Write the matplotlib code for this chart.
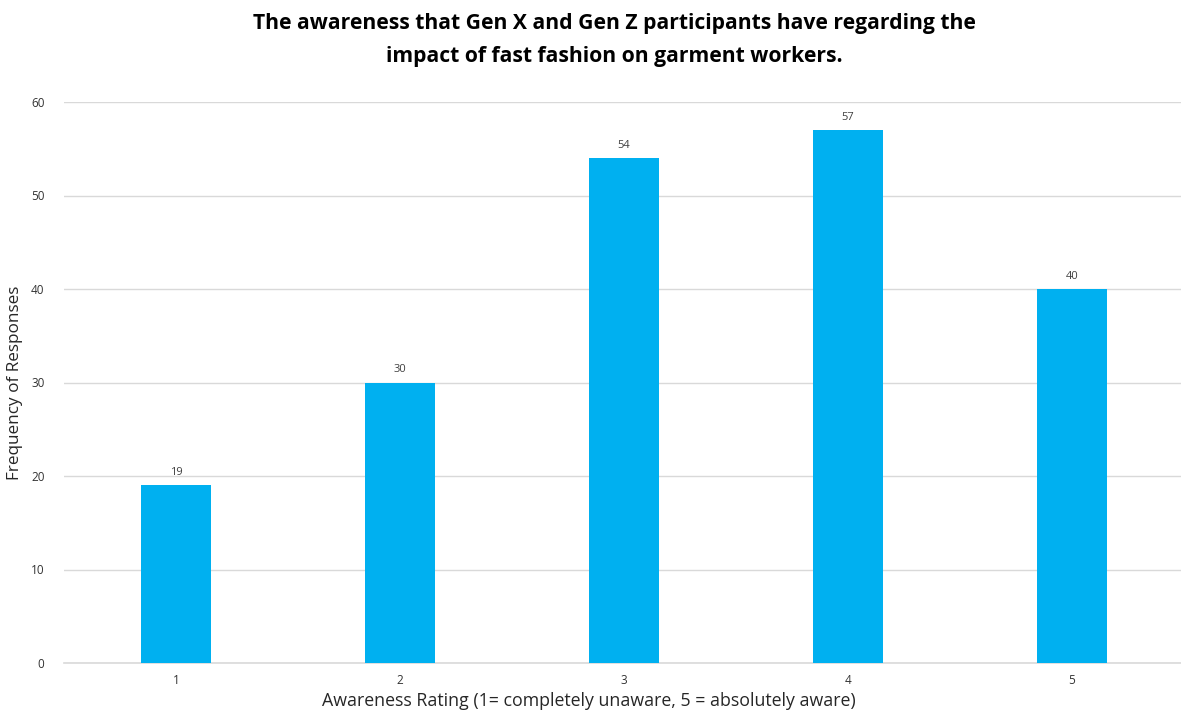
import matplotlib
matplotlib.use("Agg")
import matplotlib.pyplot as plt

ratings = ["1", "2", "3", "4", "5"]
responses = [19, 30, 54, 57, 40]
y_ticks = [0, 10, 20, 30, 40, 50, 60]

plt.rcParams['font.family'] = ['Open Sans', 'DejaVu Sans']

W, H = 1181, 713
fig = plt.figure(figsize=(W / 100, H / 100), dpi=100)
left, right = 64, 1184
top, bottom = 102, 663
ax = fig.add_axes([left / W, 1 - bottom / H, (right - left) / W, (bottom - top) / H])

x = range(len(ratings))
bars = ax.bar(x, responses, width=0.31, color="#00B0F0", zorder=3)
for xi, v in zip(x, responses):
    ax.text(xi, v + 0.8, str(v), ha="center", va="bottom", fontsize=8, color="#404040")

ax.set_xlim(-0.5, len(ratings) - 0.5)
ax.set_ylim(0, 60)
ax.set_yticks(y_ticks)
ax.set_xticks(list(x))
ax.set_xticklabels(ratings)
ax.tick_params(axis="both", length=0, labelsize=8.5, labelcolor="#333333")
ax.tick_params(axis="y", pad=14)
ax.tick_params(axis="x", pad=8)
ax.grid(axis="y", color="#D9D9D9", linewidth=1, zorder=0)
for s in ["top", "right", "left"]:
    ax.spines[s].set_visible(False)
ax.spines["bottom"].set_color("#D9D9D9")
ax.spines["bottom"].set_linewidth(1.2)

fig.text(589 / W, 1 - 701 / H,
         "Awareness Rating (1= completely unaware, 5 = absolutely aware)",
         ha="center", va="center", fontsize=12.8, color="#262626")
ax.set_ylabel("Frequency of Responses", fontsize=12.3, color="#262626", labelpad=6)

fig.text(614 / W, 1 - 40 / H,
         "The awareness that Gen X and Gen Z participants have regarding the\nimpact of fast fashion on garment workers.",
         ha="center", va="center", fontsize=15.2, fontweight="bold", color="#000000",
         linespacing=1.75)

fig.savefig("out.png", dpi=100)
